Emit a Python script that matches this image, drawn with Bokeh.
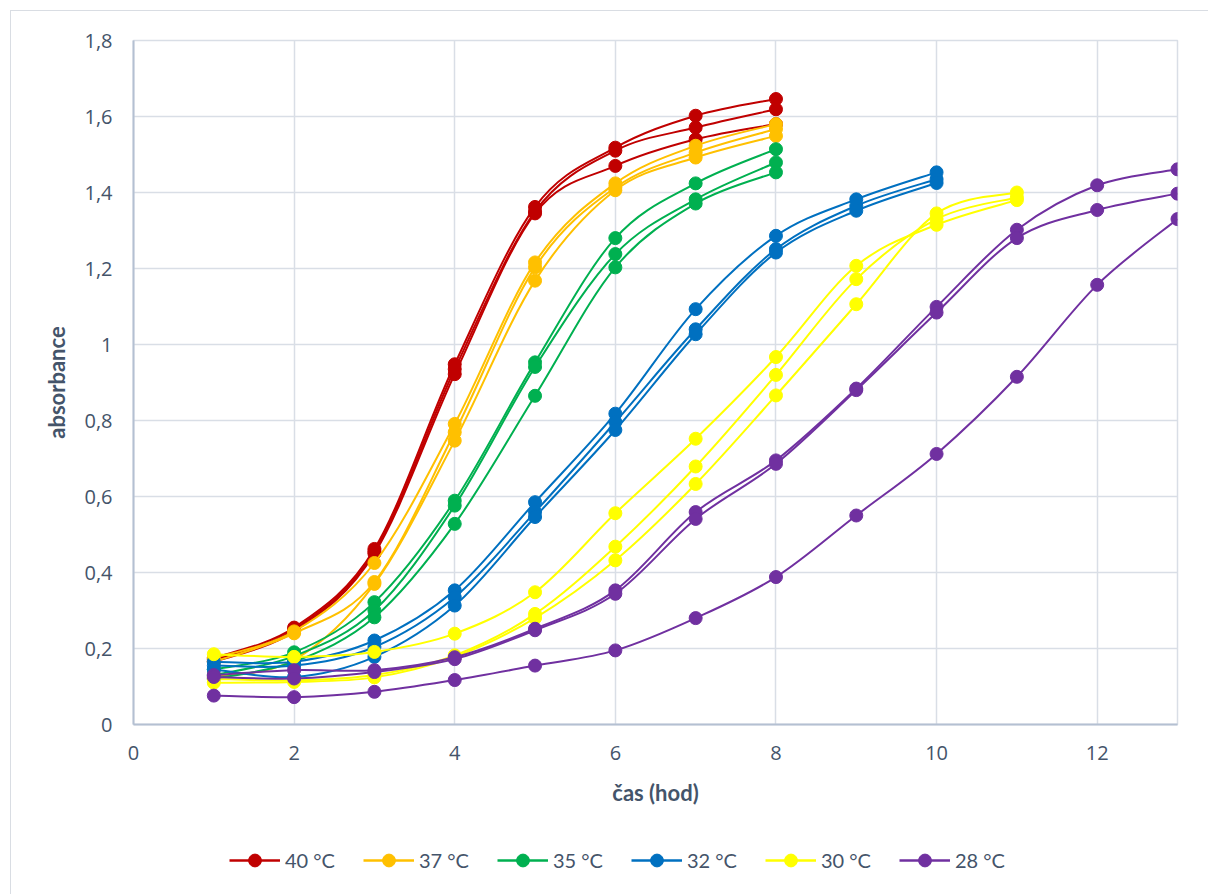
import numpy as np
from bokeh.plotting import figure
from bokeh.layouts import column
from bokeh.models import Range1d, FixedTicker, Legend, LegendItem, ColumnDataSource
from bokeh.embed import file_html
from bokeh.resources import INLINE

# ---------------- data ----------------
series_names = ["40 °C", "37 °C", "35 °C", "32 °C", "30 °C", "28 °C"]
series_colors = ["#C00000", "#FFC000", "#00B050", "#0070C0", "#FFFF00", "#7030A0"]

hours_40 = [1, 2, 3, 4, 5, 6, 7, 8]
abs_40_a = [0.175, 0.255, 0.462, 0.948, 1.362, 1.518, 1.602, 1.646]
abs_40_b = [0.170, 0.250, 0.455, 0.935, 1.350, 1.510, 1.571, 1.619]
abs_40_c = [0.165, 0.245, 0.450, 0.922, 1.345, 1.470, 1.540, 1.580]

hours_37 = [1, 2, 3, 4, 5, 6, 7, 8]
abs_37_a = [0.175, 0.245, 0.425, 0.791, 1.216, 1.424, 1.523, 1.580]
abs_37_b = [0.165, 0.240, 0.375, 0.769, 1.203, 1.413, 1.505, 1.567]
abs_37_c = [0.125, 0.170, 0.370, 0.747, 1.168, 1.406, 1.492, 1.549]

hours_35 = [1, 2, 3, 4, 5, 6, 7, 8]
abs_35_a = [0.145, 0.190, 0.322, 0.589, 0.953, 1.280, 1.424, 1.514]
abs_35_b = [0.130, 0.180, 0.300, 0.576, 0.941, 1.238, 1.382, 1.479]
abs_35_c = [0.120, 0.165, 0.282, 0.528, 0.865, 1.203, 1.371, 1.453]

hours_32 = [1, 2, 3, 4, 5, 6, 7, 8, 9, 10]
abs_32_a = [0.165, 0.165, 0.221, 0.353, 0.585, 0.818, 1.093, 1.286, 1.382, 1.453]
abs_32_b = [0.155, 0.155, 0.204, 0.335, 0.559, 0.796, 1.040, 1.251, 1.365, 1.435]
abs_32_c = [0.145, 0.125, 0.178, 0.313, 0.546, 0.775, 1.027, 1.242, 1.352, 1.425]

hours_30 = [1, 2, 3, 4, 5, 6, 7, 8, 9, 10, 11]
abs_30_a = [0.185, 0.178, 0.191, 0.239, 0.348, 0.556, 0.752, 0.967, 1.207, 1.315, 1.380]
abs_30_b = [0.120, 0.116, 0.130, 0.182, 0.291, 0.468, 0.679, 0.920, 1.172, 1.330, 1.387]
abs_30_c = [0.110, 0.112, 0.124, 0.178, 0.280, 0.432, 0.633, 0.866, 1.106, 1.345, 1.400]

hours_28 = [1, 2, 3, 4, 5, 6, 7, 8, 9, 10, 11, 12, 13]
abs_28_a = [0.130, 0.143, 0.143, 0.177, 0.252, 0.353, 0.559, 0.695, 0.884, 1.099, 1.302, 1.419, 1.461]
abs_28_b = [0.125, 0.121, 0.138, 0.172, 0.248, 0.344, 0.541, 0.686, 0.880, 1.084, 1.280, 1.354, 1.397]
abs_28_c = [0.076, 0.072, 0.086, 0.117, 0.155, 0.195, 0.280, 0.388, 0.550, 0.712, 0.915, 1.157, 1.330]

x_ticks = [0, 2, 4, 6, 8, 10, 12]
y_ticks = [0, 0.2, 0.4, 0.6, 0.8, 1.0, 1.2, 1.4, 1.6, 1.8]
y_tick_labels = ["0", "0,2", "0,4", "0,6", "0,8", "1", "1,2", "1,4", "1,6", "1,8"]

groups = [
    (hours_40, [abs_40_a, abs_40_b, abs_40_c]),
    (hours_37, [abs_37_a, abs_37_b, abs_37_c]),
    (hours_35, [abs_35_a, abs_35_b, abs_35_c]),
    (hours_32, [abs_32_a, abs_32_b, abs_32_c]),
    (hours_30, [abs_30_a, abs_30_b, abs_30_c]),
    (hours_28, [abs_28_a, abs_28_b, abs_28_c]),
]

TEXT = "#44546A"
GRID = "#D9DEE6"
AXIS = "#B4C0D2"
BOX = "#D9DDE3"


def smooth_segments(xs, ys):
    """Catmull-Rom style Bezier control points (like spreadsheet smoothed lines)."""
    x = np.asarray(xs, float)
    y = np.asarray(ys, float)
    n = len(x)
    xp = np.concatenate([[x[0]], x, [x[-1]]])
    yp = np.concatenate([[y[0]], y, [y[-1]]])
    d = dict(x0=[], y0=[], x1=[], y1=[], cx0=[], cy0=[], cx1=[], cy1=[])
    for i in range(n - 1):
        j = i + 1
        d["x0"].append(x[i]); d["y0"].append(y[i])
        d["x1"].append(x[i + 1]); d["y1"].append(y[i + 1])
        d["cx0"].append(x[i] + (xp[j + 1] - xp[j - 1]) / 6.0)
        d["cy0"].append(y[i] + (yp[j + 1] - yp[j - 1]) / 6.0)
        d["cx1"].append(x[i + 1] - (xp[j + 2] - xp[j]) / 6.0)
        d["cy1"].append(y[i + 1] - (yp[j + 2] - yp[j]) / 6.0)
    return d


# ---------------- main chart ----------------
p = figure(
    frame_width=1044, frame_height=684,
    x_range=Range1d(0, 13), y_range=Range1d(0, 1.8),
    output_backend="svg", toolbar_location=None,
    min_border_left=133, min_border_top=40, min_border_right=31, min_border_bottom=110,
    background_fill_color="white", border_fill_alpha=0,
)
p.styles = {"box-shadow": f"inset 10px 10px 0 0 #FFFFFF, inset 11px 11px 0 0 {BOX}"}

p.outline_line_color = GRID
p.outline_line_width = 1.5

p.xgrid.ticker = FixedTicker(ticks=x_ticks)
p.ygrid.ticker = FixedTicker(ticks=y_ticks)
p.xgrid.grid_line_color = GRID
p.ygrid.grid_line_color = GRID
p.xgrid.grid_line_width = 1.5
p.ygrid.grid_line_width = 1.5

for ax in (p.xaxis[0], p.yaxis[0]):
    ax.axis_line_color = AXIS
    ax.axis_line_width = 2
    ax.major_tick_line_color = None
    ax.minor_tick_line_color = None
    ax.major_tick_out = 0
    ax.major_tick_in = 0
    ax.major_label_text_font = "Open Sans"
    ax.major_label_text_font_size = "20px"
    ax.major_label_text_color = TEXT
    ax.axis_label_text_font = "Lato"
    ax.axis_label_text_font_style = "bold"
    ax.axis_label_text_font_size = "22px"
    ax.axis_label_text_color = TEXT

p.xaxis[0].ticker = FixedTicker(ticks=x_ticks)
p.yaxis[0].ticker = FixedTicker(ticks=y_ticks)
p.yaxis[0].major_label_overrides = {t: l for t, l in zip(y_ticks, y_tick_labels)}
p.xaxis[0].axis_label = "čas (hod)"
p.yaxis[0].axis_label = "absorbance"
p.xaxis[0].major_label_standoff = 21
p.yaxis[0].major_label_standoff = 21
p.xaxis[0].axis_label_standoff = 16
p.yaxis[0].axis_label_standoff = 11

for (hours, reps), name, color in zip(groups, series_names, series_colors):
    for ys in reps:
        seg = ColumnDataSource(smooth_segments(hours, ys))
        p.bezier(x0="x0", y0="y0", x1="x1", y1="y1",
                 cx0="cx0", cy0="cy0", cx1="cx1", cy1="cy1",
                 source=seg, line_color=color, line_width=2)
        p.scatter(hours, ys, marker="circle", size=13,
                  fill_color=color, line_color=color, line_width=1)

# ---------------- legend strip (frame aligned with the chart above) ----------------
lg = figure(
    width=1208, height=60, x_range=Range1d(100, 101), y_range=Range1d(100, 101),
    output_backend="svg", toolbar_location=None,
    min_border=0, x_axis_location=None, y_axis_location=None,
    background_fill_alpha=0, border_fill_alpha=0,
)
lg.styles = {"box-shadow": f"inset 10px 0 0 0 #FFFFFF, inset 11px 0 0 0 {BOX}"}
lg.outline_line_color = None
lg.grid.visible = False

legend_items = []
for (hours, reps), name, color in zip(groups, series_names, series_colors):
    # legend keys only: the plotted ranges keep these out of view
    r_line = lg.line(x=hours, y=reps[0], line_color=color, line_width=2.5)
    r_pt = lg.scatter(x=hours, y=reps[0], marker="circle", size=13,
                      fill_color=color, line_color=color)
    legend_items.append(LegendItem(label=name, renderers=[r_line, r_pt]))

legend = Legend(items=legend_items, orientation="horizontal", location=(96, 18))
legend.label_text_font = "Lato"
legend.label_text_font_size = "20px"
legend.label_text_color = TEXT
legend.glyph_width = 51
legend.glyph_height = 32
legend.spacing = 28
legend.label_standoff = 5
legend.label_width = 50
legend.border_line_alpha = 0
legend.background_fill_alpha = 0
legend.padding = 0
legend.margin = 0
lg.add_layout(legend, "center")

layout = column(p, lg, spacing=0)
open("out.html", "w").write(file_html(layout, INLINE))
